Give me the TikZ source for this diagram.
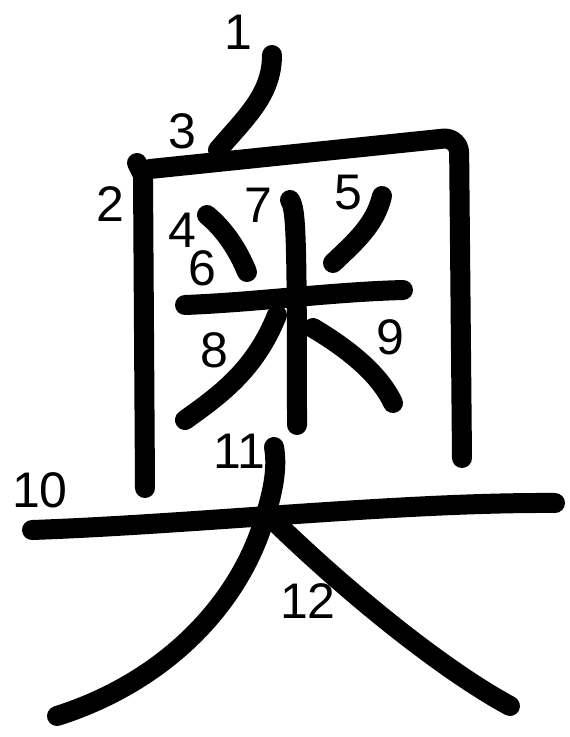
\documentclass[tikz,border=0pt]{standalone}
\usepackage{fontspec}
\setmainfont{Liberation Sans}
\usetikzlibrary{positioning}

\begin{document}
\begin{tikzpicture}[x=1pt, y=-1pt,
   stroke/.style={draw, line width=20pt, line cap=round, line join=round},
   num/.style={font=\fontsize{50}{50}\selectfont, inner sep=0pt}]
  \useasboundingbox (0,0) rectangle (570,737);
  % strokes
  \draw[stroke] (272,55) .. controls (272,95) and (245,118) .. (218,150);
  \draw[stroke] (137,163) -- (143,175) -- (145,488);
  \draw[stroke, rounded corners=16pt] (150,169) -- (459,137) -- (462,458);
  \draw[stroke] (207,215) .. controls (225,230) and (238,250) .. (247,272);
  \draw[stroke] (382,196) .. controls (375,225) and (355,242) .. (333,263);
  \draw[stroke] (185,305) .. controls (260,302) and (330,292) .. (403,290);
  \draw[stroke] (290,200) .. controls (296,210) and (297,230) .. (297,425);
  \draw[stroke] (277,315) .. controls (255,370) and (220,395) .. (185,420);
  \draw[stroke] (313,328) .. controls (350,350) and (380,375) .. (393,403);
  \draw[stroke] (32,530) .. controls (200,524) and (400,502) .. (555,503);
  \draw[stroke] (274,447) .. controls (278,470) and (272,495) .. (264,520)
     .. controls (240,600) and (170,680) .. (57,716);
  \draw[stroke] (273,520) .. controls (345,590) and (440,668) .. (510,706);
  % numbers
  \node[num] (n1) at (238,32) {1};
  \node[num] (n2) at (110,204) {2};
  \node[num] (n3) at (182,131) {3};
  \node[num] (n4) at (182,230) {4};
  \node[num] (n5) at (348,193) {5};
  \node[num] (n6) at (202,268) {6};
  \node[num] (n7) at (258,205) {7};
  \node[num] (n8) at (214,350) {8};
  \node[num] (n9) at (390,337) {9};
  \node[num] (n10) at (40,490) {10};
  \node[num] (n11) at (239,451) {11};
  \node[num] (n12) at (308,601) {12};
\end{tikzpicture}
\end{document}
